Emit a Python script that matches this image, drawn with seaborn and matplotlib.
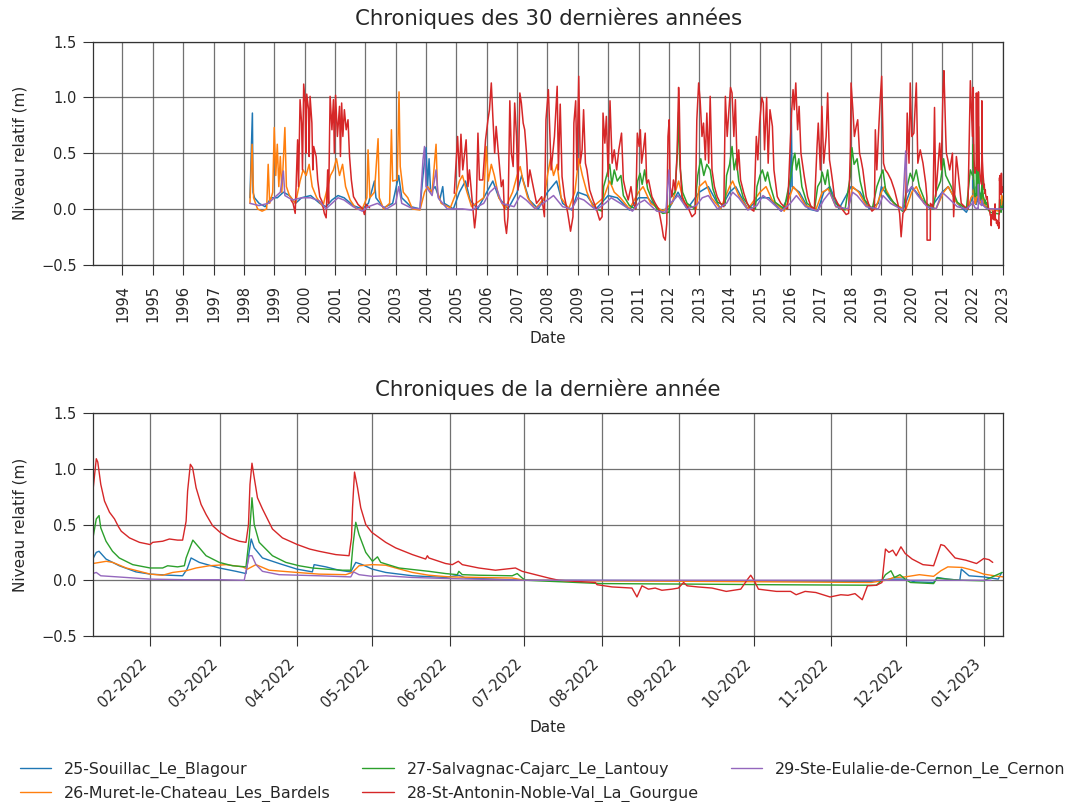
import numpy as np
import pandas as pd
import matplotlib
matplotlib.use("Agg")
import matplotlib.pyplot as plt
import matplotlib.dates as mdates
import seaborn as sns

# Stations and colours
stations = ["25-Souillac_Le_Blagour", "26-Muret-le-Chateau_Les_Bardels",
            "27-Salvagnac-Cajarc_Le_Lantouy", "28-St-Antonin-Noble-Val_La_Gourgue",
            "29-Ste-Eulalie-de-Cernon_Le_Cernon"]
colors = ["#1f77b4", "#ff7f0e", "#2ca02c", "#d62728", "#9467bd"]

# History up to early 2022: (decimal year, relative level in m), None = gap
hist_blagour = [(1998.20, 0.10), (1998.28, 0.86), (1998.30, 0.15), (1998.35, 0.10), (1998.50, 0.05),
                (1998.70, 0.02), (1998.90, 0.10), (1999.10, 0.10), (1999.30, 0.15), (1999.50, 0.12),
                (1999.70, 0.05), (1999.90, 0.10), (2000.20, 0.12), (2000.50, 0.05), (2000.70, 0.02),
                (2000.90, 0.08), (2001.10, 0.12), (2001.30, 0.10), (2001.60, 0.03), (2001.90, 0.00),
                (2002.10, 0.05), (2002.30, 0.25), (2002.35, 0.10), (2002.60, 0.01), (2002.90, 0.05),
                (2003.10, 0.30), (2003.20, 0.10), (2003.50, 0.02), (2003.80, 0.00), (2003.90, 0.30),
                (2004.00, 0.55), (2004.05, 0.20), (2004.10, 0.45), (2004.15, 0.15), (2004.30, 0.20),
                (2004.45, 0.08), (2004.55, 0.20), (2004.60, 0.05), (2004.90, 0.00), (2005.10, 0.15),
                (2005.30, 0.25), (2005.45, 0.08), (2005.70, 0.00), (2006.00, 0.15), (2006.20, 0.25),
                (2006.40, 0.10), (2006.70, 0.00), (2007.00, 0.15), (2007.15, 0.30), (2007.40, 0.08),
                (2007.70, 0.00), (2008.00, 0.15), (2008.30, 0.25), (2008.50, 0.05), (2008.80, -0.01),
                (2009.00, 0.15), (2009.30, 0.12), (2009.60, 0.00), (2010.00, 0.12), (2010.30, 0.10),
                (2010.70, -0.01), (2011.00, 0.10), (2011.30, 0.10), (2011.70, -0.02), (2012.00, 0.00),
                (2012.30, 0.15), (2012.60, 0.00), (2013.00, 0.15), (2013.30, 0.20), (2013.70, 0.00),
                (2014.00, 0.15), (2014.20, 0.20), (2014.60, 0.00), (2015.00, 0.10), (2015.30, 0.10),
                (2015.70, -0.02), (2016.00, 0.15), (2016.03, 0.90), (2016.06, 0.20), (2016.30, 0.15),
                (2016.60, 0.00), (2016.90, -0.02), (2017.10, 0.15), (2017.30, 0.20), (2017.60, 0.00),
                (2018.00, 0.20), (2018.30, 0.15), (2018.60, 0.00), (2018.90, 0.05), (2019.00, 0.20),
                (2019.30, 0.08), (2019.70, -0.02), (2020.00, 0.20), (2020.30, 0.10), (2020.60, 0.00),
                (2021.00, 0.15), (2021.20, 0.20), (2021.50, 0.05), (2021.80, -0.03), (2022.00, 0.10)]

hist_bardels = [(1998.20, 0.05), (1998.27, 0.58), (1998.32, 0.10), (1998.45, 0.00), (1998.60, -0.02),
                (1998.75, 0.00), (1998.80, 0.40), (1998.85, 0.05), (1998.95, 0.15), (1999.00, 0.73),
                (1999.05, 0.30), (1999.10, 0.58), (1999.15, 0.20), (1999.20, 0.47), (1999.25, 0.15),
                (1999.35, 0.73), (1999.40, 0.20), (1999.50, 0.12), (1999.70, 0.05), (1999.85, 0.25),
                (1999.95, 0.35), (2000.05, 0.30), (2000.15, 0.40), (2000.25, 0.20), (2000.40, 0.10),
                (2000.60, 0.02), (2000.85, 0.30), (2000.95, 0.35), (2001.05, 0.45), (2001.15, 0.30),
                (2001.25, 0.40), (2001.35, 0.20), (2001.50, 0.08), (2001.70, 0.00), (2001.90, 0.00),
                (2002.05, 0.10), (2002.09, 0.53), (2002.15, 0.10), (2002.30, 0.15), (2002.42, 0.63),
                (2002.46, 0.10), (2002.60, 0.00), (2002.80, 0.05), (2002.86, 0.71), (2002.90, 0.25),
                (2003.05, 0.26), (2003.11, 1.05), (2003.15, 0.38), (2003.25, 0.15), (2003.40, 0.10),
                (2003.55, 0.00), (2003.80, -0.01), (2003.95, 0.15), (2004.05, 0.20), (2004.20, 0.15),
                (2004.33, 0.58), (2004.38, 0.15), (2004.50, 0.05), (2004.80, 0.01), (2005.00, 0.15),
                (2005.10, 0.25), (2005.20, 0.30), (2005.35, 0.15), (2005.50, 0.02), (2005.90, 0.10),
                (2005.98, 0.56), (2006.05, 0.25), (2006.15, 0.40), (2006.25, 0.30), (2006.40, 0.10),
                (2006.60, 0.00), (2006.85, 0.15), (2007.00, 0.30), (2007.10, 0.38), (2007.20, 0.25),
                (2007.35, 0.10), (2007.60, 0.00), (2007.90, 0.10), (2008.00, 0.30), (2008.10, 0.45),
                (2008.20, 0.30), (2008.32, 0.40), (2008.45, 0.10), (2008.70, 0.00), (2008.90, 0.15),
                (2009.03, 0.45), (2009.15, 0.30), (2009.30, 0.15), (2009.50, 0.02), (2009.85, 0.10),
                (2010.05, 0.25), (2010.20, 0.15), (2010.40, 0.10), (2010.70, 0.00), (2011.00, 0.15),
                (2011.15, 0.20), (2011.40, 0.05), (2011.80, -0.02), (2012.10, 0.05), (2012.32, 0.25),
                (2012.50, 0.05), (2012.90, 0.00), (2013.00, 0.20), (2013.20, 0.25), (2013.40, 0.10),
                (2013.70, 0.00), (2014.00, 0.20), (2014.10, 0.25), (2014.30, 0.12), (2014.60, 0.00),
                (2015.00, 0.15), (2015.20, 0.20), (2015.40, 0.08), (2015.80, -0.02), (2016.10, 0.20),
                (2016.25, 0.15), (2016.50, 0.03), (2016.85, 0.00), (2017.05, 0.15), (2017.25, 0.18),
                (2017.50, 0.02), (2017.90, -0.01), (2018.05, 0.20), (2018.25, 0.15), (2018.50, 0.03),
                (2018.80, 0.00), (2019.00, 0.15), (2019.10, 0.20), (2019.40, 0.05), (2019.80, -0.01),
                (2020.00, 0.15), (2020.15, 0.20), (2020.40, 0.05), (2020.80, 0.00), (2021.05, 0.15),
                (2021.20, 0.20), (2021.50, 0.05), (2021.85, 0.00), (2021.95, 0.10), (2022.00, 0.12)]

hist_lantouy = [(2009.60, 0.00), (2009.80, -0.02), (2009.85, 0.20), (2009.95, 0.30), (2010.05, 0.40),
                (2010.12, 0.22), (2010.20, 0.35), (2010.30, 0.25), (2010.42, 0.30), (2010.50, 0.12),
                (2010.70, 0.03), (2010.90, 0.00), (2010.97, 0.25), (2011.05, 0.32), (2011.12, 0.22),
                (2011.20, 0.35), (2011.30, 0.18), (2011.45, 0.08), (2011.60, 0.00), (2011.80, -0.04),
                (2012.00, -0.03), (2012.05, 0.10), (2012.20, 0.15), (2012.28, 0.50), (2012.32, 0.87),
                (2012.36, 0.40), (2012.45, 0.15), (2012.60, 0.05), (2012.85, 0.00), (2012.95, 0.30),
                (2013.05, 0.45), (2013.15, 0.30), (2013.25, 0.40), (2013.36, 0.35), (2013.45, 0.18),
                (2013.60, 0.06), (2013.85, 0.03), (2013.90, 0.30), (2014.00, 0.40), (2014.08, 0.56),
                (2014.15, 0.35), (2014.22, 0.45), (2014.30, 0.25), (2014.45, 0.10), (2014.65, 0.02),
                (2014.85, 0.00), (2014.90, 0.20), (2015.00, 0.30), (2015.08, 0.35), (2015.18, 0.25),
                (2015.25, 0.33), (2015.35, 0.20), (2015.50, 0.06), (2015.80, 0.00), (2016.02, 0.30),
                (2016.10, 0.45), (2016.15, 0.50), (2016.20, 0.35), (2016.28, 0.45), (2016.38, 0.20),
                (2016.55, 0.05), (2016.80, 0.00), (2016.90, 0.20), (2017.00, 0.25), (2017.05, 0.33),
                (2017.15, 0.22), (2017.23, 0.35), (2017.30, 0.18), (2017.45, 0.06), (2017.80, -0.01),
                (2017.98, 0.30), (2018.03, 0.55), (2018.10, 0.40), (2018.20, 0.45), (2018.30, 0.25),
                (2018.45, 0.08), (2018.70, 0.00), (2018.85, 0.20), (2018.98, 0.30), (2019.05, 0.35),
                (2019.15, 0.15), (2019.40, 0.06), (2019.70, -0.02), (2019.85, 0.20), (2019.95, 0.32),
                (2020.05, 0.25), (2020.15, 0.35), (2020.25, 0.20), (2020.45, 0.06), (2020.70, 0.00),
                (2020.80, 0.15), (2020.95, 0.25), (2021.05, 0.45), (2021.12, 0.30), (2021.30, 0.20),
                (2021.50, 0.06), (2021.80, 0.00), (2021.93, 0.35), (2022.00, 0.30)]

hist_gourgue = [(1999.55, 0.08), (1999.62, 0.05), (1999.69, -0.04), (1999.77, 0.62), (1999.80, 0.20),
                (1999.85, 0.98), (1999.90, 0.77), (1999.93, 0.35), (1999.97, 1.12), (2000.02, 0.95),
                (2000.04, 0.50), (2000.07, 1.03), (2000.13, 0.89), (2000.15, 0.47), (2000.18, 1.01),
                (2000.24, 0.77), (2000.27, 0.35), (2000.30, 0.56), (2000.38, 0.47), (2000.43, 0.26),
                (2000.50, 0.11), (2000.57, 0.07), (2000.65, -0.04), (2000.71, -0.08), (2000.76, 0.35),
                (2000.79, 0.05), (2000.84, 1.01), (2000.90, 0.71), (2000.95, 0.98), (2000.98, 0.50),
                (2001.02, 1.02), (2001.08, 0.65), (2001.15, 0.92), (2001.18, 0.47), (2001.22, 0.95),
                (2001.26, 0.65), (2001.31, 0.89), (2001.37, 0.71), (2001.43, 0.80), (2001.48, 0.47),
                (2001.54, 0.26), (2001.61, 0.11), (2001.76, 0.04), (2001.92, 0.00), (2001.97, -0.05),
                (2002.03, 0.04), (2002.14, 0.01),
                None,
                (2004.93, 0.14), (2005.04, 0.65), (2005.10, 0.29), (2005.15, 0.67), (2005.21, 0.35),
                (2005.32, 0.62), (2005.38, 0.20), (2005.43, 0.35), (2005.51, 0.11), (2005.60, -0.17),
                (2005.65, -0.04), (2005.71, 0.68), (2005.76, 0.26), (2005.87, 0.26), (2005.96, 0.62),
                (2006.04, 0.80), (2006.09, 0.89), (2006.15, 1.13), (2006.20, 0.83), (2006.26, 0.50),
                (2006.31, 0.74), (2006.43, 0.35), (2006.48, 0.20), (2006.54, 0.26), (2006.59, -0.10),
                (2006.65, -0.22), (2006.70, -0.07), (2006.76, 0.97), (2006.81, 0.50), (2006.87, 0.38),
                (2006.92, 0.95), (2006.98, 0.65), (2007.03, 0.17), (2007.09, 1.04), (2007.14, 0.95),
                (2007.20, 0.77), (2007.25, 0.71), (2007.31, 0.50), (2007.36, 0.20), (2007.42, 0.35),
                (2007.53, 0.20), (2007.64, 0.05), (2007.81, 0.11), (2007.90, -0.07), (2007.95, 0.80),
                (2008.03, 1.07), (2008.12, 0.35), (2008.23, 0.65), (2008.32, 1.10), (2008.36, 0.35),
                (2008.42, 0.94), (2008.48, 0.29), (2008.56, 0.11), (2008.67, -0.04), (2008.76, -0.20),
                (2008.84, -0.07), (2008.87, 0.77), (2008.93, 0.97), (2008.97, 0.35), (2009.03, 1.19),
                (2009.08, 0.41), (2009.14, 0.53), (2009.19, 0.89), (2009.25, 0.41), (2009.30, 0.35),
                (2009.39, 0.17), (2009.50, 0.08), (2009.61, 0.00), (2009.72, -0.10), (2009.80, -0.07),
                (2009.83, 0.86), (2009.89, 0.59), (2009.94, 0.83), (2010.00, 0.29), (2010.06, 0.97),
                (2010.13, 0.41), (2010.20, 0.53), (2010.28, 0.35), (2010.35, 0.53), (2010.44, 0.68),
                (2010.50, 0.26), (2010.57, 0.17), (2010.66, 0.08), (2010.75, 0.20), (2010.83, 0.05),
                (2010.91, 0.00), (2010.96, 0.68), (2011.02, 0.56), (2011.06, 0.71), (2011.10, 0.41),
                (2011.16, 0.53), (2011.22, 0.68), (2011.27, 0.23), (2011.33, 0.26), (2011.44, 0.11),
                (2011.55, 0.05), (2011.66, 0.00), (2011.71, -0.07), (2011.77, -0.16), (2011.82, -0.25),
                (2011.88, -0.28), (2011.93, -0.13), (2011.97, 0.65), (2012.01, 0.80), (2012.04, 0.20),
                (2012.10, 0.11), (2012.15, 0.26), (2012.21, 0.17), (2012.27, 0.50), (2012.32, 1.09),
                (2012.34, 0.95), (2012.38, 0.35), (2012.43, 0.11), (2012.54, 0.05), (2012.65, 0.00),
                (2012.76, -0.07), (2012.87, -0.04), (2012.92, 0.80), (2012.98, 1.13), (2013.03, 0.97),
                (2013.09, 0.65), (2013.14, 0.77), (2013.20, 0.44), (2013.25, 0.86), (2013.31, 0.41),
                (2013.36, 1.01), (2013.42, 0.35), (2013.50, 0.20), (2013.59, 0.11), (2013.70, 0.05),
                (2013.81, 0.02), (2013.86, 1.01), (2013.92, 0.65), (2013.97, 0.86), (2014.03, 1.09),
                (2014.08, 1.04), (2014.14, 0.65), (2014.19, 0.98), (2014.25, 0.35), (2014.30, 0.53),
                (2014.36, 0.26), (2014.47, 0.14), (2014.58, 0.05), (2014.69, 0.00), (2014.80, -0.02),
                (2014.88, 0.65), (2014.93, 0.44), (2014.99, 0.77), (2015.06, 1.00), (2015.11, 0.95),
                (2015.15, 0.53), (2015.22, 1.00), (2015.27, 0.41), (2015.33, 0.89), (2015.41, 0.74),
                (2015.46, 0.35), (2015.57, 0.11), (2015.69, 0.05), (2015.80, 0.02), (2015.91, 0.00),
                (2016.04, 0.86), (2016.09, 1.07), (2016.13, 0.89), (2016.18, 1.13), (2016.24, 0.71),
                (2016.29, 0.92), (2016.35, 0.50), (2016.46, 0.29), (2016.57, 0.11), (2016.68, 0.02),
                (2016.79, 0.00), (2016.88, 0.56), (2016.92, 0.77), (2016.99, 0.35), (2017.04, 0.92),
                (2017.10, 0.41), (2017.18, 0.65), (2017.23, 1.04), (2017.29, 0.44), (2017.34, 0.35),
                (2017.40, 0.23), (2017.45, 0.11), (2017.56, 0.05), (2017.67, 0.01), (2017.84, -0.05),
                (2017.92, -0.04), (2017.98, 0.56), (2018.00, 1.13), (2018.06, 0.89), (2018.11, 0.65),
                (2018.17, 0.74), (2018.22, 0.80), (2018.28, 0.50), (2018.33, 0.44), (2018.39, 0.35),
                (2018.50, 0.11), (2018.61, 0.02), (2018.69, -0.02), (2018.77, 0.00), (2018.80, 0.71),
                (2018.85, 0.35), (2018.90, 0.65), (2018.96, 0.98), (2019.01, 1.19), (2019.07, 0.41),
                (2019.13, 0.35), (2019.21, 0.32), (2019.32, 0.26), (2019.43, 0.17), (2019.54, 0.05),
                (2019.60, -0.04), (2019.65, -0.25), (2019.71, -0.04), (2019.80, 0.00), (2019.85, 0.86),
                (2019.91, 0.41), (2019.95, 1.13), (2020.00, 0.65), (2020.07, 0.68), (2020.15, 1.13),
                (2020.20, 0.41), (2020.28, 0.53), (2020.37, 0.41), (2020.46, 0.23), (2020.500, 0.10),
                (2020.505, -0.28), (2020.610, -0.28), (2020.615, 0.05), (2020.70, 0.02), (2020.75, 0.91),
                (2020.79, 0.11), (2020.92, 0.59), (2020.97, 0.35), (2021.03, 1.07), (2021.06, 1.24),
                (2021.12, 0.65), (2021.14, 0.50), (2021.19, 0.44), (2021.25, 0.35), (2021.34, 0.50),
                (2021.38, -0.07), (2021.47, 0.47), (2021.52, 0.35), (2021.63, 0.05), (2021.74, 0.02),
                (2021.85, 0.00), (2021.93, 1.15), (2022.00, 0.65)]

hist_cernon = [(1998.20, 0.05), (1998.50, 0.03), (1998.80, 0.05), (1999.00, 0.10), (1999.20, 0.15),
               (1999.30, 0.34), (1999.35, 0.12), (1999.60, 0.08), (1999.90, 0.10), (2000.20, 0.10),
               (2000.50, 0.07), (2000.70, 0.00), (2000.90, 0.05), (2001.10, 0.10), (2001.30, 0.08),
               (2001.60, 0.02), (2001.90, -0.02), (2002.10, 0.02), (2002.40, 0.05), (2002.70, 0.00),
               (2003.00, 0.05), (2003.10, 0.20), (2003.20, 0.05), (2003.50, 0.01), (2003.80, 0.00),
               (2003.90, 0.44), (2003.95, 0.56), (2004.00, 0.20), (2004.20, 0.12), (2004.33, 0.35),
               (2004.40, 0.10), (2004.70, 0.00), (2005.20, 0.00), (2005.50, -0.01), (2005.90, 0.05),
               (2006.10, 0.15), (2006.30, 0.20), (2006.50, 0.05), (2006.90, 0.02), (2007.10, 0.12),
               (2007.30, 0.08), (2007.60, 0.00), (2008.00, 0.08), (2008.20, 0.12), (2008.50, 0.02),
               (2008.80, 0.00), (2009.00, 0.10), (2009.20, 0.08), (2009.60, -0.01), (2009.90, 0.05),
               (2010.10, 0.10), (2010.40, 0.05), (2010.80, -0.02), (2011.00, 0.05), (2011.20, 0.08),
               (2011.60, -0.02), (2011.90, -0.03), (2012.00, 0.35), (2012.05, 0.05), (2012.30, 0.12),
               (2012.60, 0.00), (2012.90, 0.03), (2013.10, 0.10), (2013.30, 0.12), (2013.60, 0.00),
               (2013.90, 0.05), (2014.10, 0.15), (2014.30, 0.10), (2014.60, -0.01), (2014.90, 0.03),
               (2015.10, 0.12), (2015.30, 0.08), (2015.70, -0.02), (2016.00, 0.05), (2016.20, 0.12),
               (2016.50, 0.02), (2016.90, -0.02), (2017.10, 0.08), (2017.30, 0.15), (2017.50, 0.02),
               (2017.90, 0.00), (2018.05, 0.15), (2018.20, 0.12), (2018.50, 0.02), (2018.90, 0.00),
               (2019.05, 0.12), (2019.30, 0.05), (2019.70, -0.01), (2019.80, 0.52), (2019.85, 0.15),
               (2020.00, 0.20), (2020.20, 0.12), (2020.50, 0.02), (2020.80, 0.00), (2021.00, 0.15),
               (2021.20, 0.10), (2021.50, 0.02), (2021.80, 0.00), (2022.00, 0.05)]

# Last year: (days since 2022-01-01, relative level in m)
year_blagour = [(8, 0.19), (9.4, 0.25), (10.5, 0.26), (13.3, 0.19), (18.6, 0.13), (25.3, 0.075),
                (31, 0.055), (38.7, 0.045), (44, 0.04), (45.8, 0.10), (47.4, 0.20), (50.7, 0.16),
                (58.7, 0.11), (65.4, 0.08), (69.4, 0.06), (70.7, 0.26), (71.5, 0.37), (72.7, 0.29),
                (76, 0.20), (82.7, 0.15), (89.8, 0.10), (96, 0.075), (96.7, 0.14), (101.4, 0.12),
                (106.7, 0.09), (111.4, 0.075), (113.4, 0.16), (116, 0.14), (120, 0.10), (125.4, 0.07),
                (136.1, 0.04), (149.4, 0.025), (154.7, 0.045), (157.4, 0.02), (181, 0.0), (250, -0.005),
                (320, -0.01), (327, 0.01), (333, 0.01), (337.6, -0.015), (345, -0.02), (346.4, 0.025),
                (350.7, 0.01), (355.5, 0.0), (356.1, 0.10), (359.2, 0.04), (365.1, 0.03), (370.9, 0.01),
                (372.3, 0.07)]

year_bardels = [(8, 0.15), (13.4, 0.17), (16, 0.16), (21.4, 0.11), (26.7, 0.08), (31, 0.055),
                (36, 0.045), (40, 0.07), (45.4, 0.085), (49.4, 0.11), (54.7, 0.13), (61.4, 0.14),
                (68, 0.12), (70, 0.10), (73.4, 0.14), (78.7, 0.09), (89.8, 0.07), (98.7, 0.055),
                (109.4, 0.05), (112, 0.07), (114.7, 0.13), (120, 0.14), (125.4, 0.135), (129.4, 0.11),
                (136.1, 0.07), (142.7, 0.045), (151, 0.03), (162.7, 0.025), (176.1, 0.02), (181, 0.0),
                (210, -0.005), (250, -0.01), (320, -0.02), (326, 0.0), (329, 0.025), (333.6, 0.03),
                (339.3, 0.05), (345, 0.035), (347.9, 0.085), (350.7, 0.12), (356.4, 0.115),
                (360.7, 0.09), (365.1, 0.055), (370.9, 0.035), (373, 0.03)]

year_lantouy = [(8, 0.37), (9.4, 0.55), (10.5, 0.58), (11.2, 0.47), (13.3, 0.35), (15.9, 0.26),
                (18.6, 0.20), (24, 0.14), (31, 0.11), (36, 0.11), (38, 0.13), (42, 0.12), (44.7, 0.13),
                (45.4, 0.20), (48.1, 0.36), (50, 0.31), (53.4, 0.22), (58.7, 0.16), (64, 0.13),
                (69.4, 0.12), (70.7, 0.38), (71.8, 0.74), (72.7, 0.50), (74.7, 0.34), (80, 0.22),
                (85.4, 0.16), (90.7, 0.13), (96, 0.11), (101.4, 0.10), (108, 0.09), (111.4, 0.09),
                (112.3, 0.32), (113.4, 0.52), (114.7, 0.41), (117.4, 0.25), (120.1, 0.17), (122.1, 0.21),
                (123.4, 0.16), (130.7, 0.11), (142.7, 0.08), (149.4, 0.06), (154.1, 0.05), (154.7, 0.08),
                (156.1, 0.05), (162.7, 0.045), (176.1, 0.04), (178.1, 0.06), (180.1, 0.02), (181.4, 0.0),
                (212, -0.03), (250, -0.035), (280, -0.04), (322, -0.045), (324.3, 0.0), (325.7, 0.05),
                (327.9, 0.085), (329.3, 0.025), (331.5, 0.05), (333.6, 0.01), (335.7, -0.02),
                (345, -0.03), (346.4, 0.02), (350, 0.01), (356, 0.0), (365, -0.005), (372.5, 0.07)]

year_gourgue = [(8, 0.79), (9.4, 1.09), (10, 1.06), (11.2, 0.86), (12.7, 0.71), (14.7, 0.61),
                (16.7, 0.55), (18.3, 0.48), (19.4, 0.44), (22.7, 0.38), (26.7, 0.34), (31, 0.32),
                (32, 0.34), (36, 0.35), (38.7, 0.37), (42, 0.36), (44, 0.36), (45.4, 0.53), (46, 0.80),
                (47.1, 1.04), (48, 1.01), (49.4, 0.83), (51.4, 0.68), (53.4, 0.59), (56, 0.49),
                (59, 0.43), (62.7, 0.38), (66.7, 0.35), (69.4, 0.34), (70.4, 0.50), (71, 0.86),
                (71.8, 1.05), (72.7, 0.92), (74, 0.74), (76, 0.64), (80, 0.46), (84, 0.38), (90, 0.32),
                (94.9, 0.28), (98.7, 0.26), (105.4, 0.23), (110.7, 0.22), (111.7, 0.38), (112.1, 0.65),
                (112.9, 0.97), (114.1, 0.83), (115.4, 0.65), (117.4, 0.50), (119.8, 0.43), (125.4, 0.34),
                (129.4, 0.29), (136.1, 0.23), (141.4, 0.19), (142.1, 0.22), (142.7, 0.20), (149.4, 0.15),
                (152.1, 0.14), (154.5, 0.17), (156.1, 0.14), (162.7, 0.11), (169.4, 0.09), (177.4, 0.11),
                (180.1, 0.08), (185.4, 0.05), (190.7, 0.02), (194.7, 0.0), (201.4, -0.01), (209.4, -0.02),
                (210.1, -0.04), (216.1, -0.06), (224.1, -0.07), (226.1, -0.15), (228.1, -0.05),
                (230.7, -0.08), (233.4, -0.07), (236.1, -0.09), (240.1, -0.08), (242.7, -0.07),
                (244.8, -0.02), (246.2, -0.05), (250.5, -0.06), (256.2, -0.07), (261.9, -0.10),
                (267.7, -0.08), (270.5, 0.01), (271.7, 0.045), (273, 0.0), (274.8, -0.08), (282, -0.10),
                (287.7, -0.10), (289.9, -0.13), (293.5, -0.10), (297.8, -0.11), (303.5, -0.15),
                (307.8, -0.13), (310.7, -0.135), (313.5, -0.12), (316.4, -0.175), (318.5, -0.05),
                (322.1, -0.045), (324.3, -0.02), (325.7, 0.28), (327.1, 0.25), (328.6, 0.27),
                (330, 0.22), (331.9, 0.30), (333.6, 0.24), (336.4, 0.19), (340.7, 0.14), (345, 0.13),
                (347.9, 0.32), (349.3, 0.31), (353.6, 0.20), (357.9, 0.18), (362.2, 0.15),
                (365.1, 0.195), (367.2, 0.185), (368.7, 0.16)]

year_cernon = [(8, 0.06), (9.4, 0.07), (11.2, 0.04), (18, 0.03), (31, 0.01), (45, 0.005), (58.7, 0.005),
               (68.7, 0.0), (69.4, 0.08), (70.7, 0.22), (71.8, 0.22), (73.4, 0.14), (76, 0.08),
               (82.7, 0.05), (98.7, 0.04), (111.4, 0.03), (112.5, 0.075), (114.7, 0.05), (120, 0.035),
               (125.4, 0.04), (136, 0.025), (151, 0.015), (181, 0.0), (250, 0.0), (330, 0.0), (368, 0.0)]

hist_series = [hist_blagour, hist_bardels, hist_lantouy, hist_gourgue, hist_cernon]
year_series = [year_blagour, year_bardels, year_lantouy, year_gourgue, year_cernon]

year0 = pd.Timestamp("2022-01-01")


def dec_year_to_date(t):
    return pd.Timestamp("1994-01-01") + pd.to_timedelta((np.asarray(t) - 1994.0) * 365.25, unit="D")


def year_rows(name, pts):
    days = np.array([p[0] for p in pts], dtype=float)
    return pd.DataFrame({"Date": year0 + pd.to_timedelta(days, unit="D"),
                         "Niveau": [p[1] for p in pts], "Station": name, "seg": 99})


long_rows = []
last_rows = []
for name, hist, last in zip(stations, hist_series, year_series):
    seg = 0
    chunk = []
    for p in hist + [None]:
        if p is None:
            if chunk:
                long_rows.append(pd.DataFrame({"Date": dec_year_to_date([c[0] for c in chunk]),
                                               "Niveau": [c[1] for c in chunk],
                                               "Station": name, "seg": seg}))
            seg += 1
            chunk = []
        else:
            chunk.append(p)
    yr = year_rows(name, last)
    long_rows.append(yr)
    last_rows.append(yr)

df_long = pd.concat(long_rows, ignore_index=True)
df_last = pd.concat(last_rows, ignore_index=True)

sns.set_style("ticks")
plt.rcParams["font.family"] = ["DejaVu Sans"]
palette = dict(zip(stations, colors))

fig = plt.figure(figsize=(10.79, 8.02), dpi=100)
ax1 = fig.add_axes([0.086, 0.670, 0.844, 0.278])
ax2 = fig.add_axes([0.086, 0.207, 0.844, 0.278])

sns.lineplot(data=df_long, x="Date", y="Niveau", hue="Station", units="seg", estimator=None,
             sort=False, palette=palette, hue_order=stations, linewidth=1.1, legend=False, ax=ax1)
sns.lineplot(data=df_last, x="Date", y="Niveau", hue="Station", estimator=None,
             sort=False, palette=palette, hue_order=stations, linewidth=1.0, legend=True, ax=ax2)

# top panel: 30 years
ax1.set_xlim(pd.Timestamp("1993-01-09"), pd.Timestamp("2023-01-09"))
ax1.xaxis.set_major_locator(mdates.YearLocator(1))
ax1.xaxis.set_major_formatter(mdates.DateFormatter("%Y"))
plt.setp(ax1.get_xticklabels(), rotation=90)
ax1.set_title("Chroniques des 30 dernières années", fontsize=15.3, pad=12)

# bottom panel: last year
ax2.set_xlim(pd.Timestamp("2022-01-09"), pd.Timestamp("2023-01-09"))
ax2.xaxis.set_major_locator(mdates.MonthLocator())
ax2.xaxis.set_major_formatter(mdates.DateFormatter("%m-%Y"))
plt.setp(ax2.get_xticklabels(), rotation=45, ha="right")
ax2.set_title("Chroniques de la dernière année", fontsize=15.3, pad=12)

for ax in (ax1, ax2):
    ax.set_ylim(-0.5, 1.5)
    ax.set_yticks([-0.5, 0.0, 0.5, 1.0, 1.5])
    ax.grid(True, color="0.3", linewidth=0.9, alpha=0.8)
    ax.set_ylabel("Niveau relatif (m)", fontsize=11, labelpad=10)
    ax.tick_params(labelsize=10.5, length=7, color="0.2")
    ax.tick_params(axis="x", pad=7.5)
    ax.tick_params(axis="y", pad=4.5)
    for s in ax.spines.values():
        s.set_color("0.2")
        s.set_linewidth(0.9)
ax1.set_xlabel("Date", fontsize=11, labelpad=6)
ax2.set_xlabel("Date", fontsize=11, labelpad=7)

handles, labels = ax2.get_legend_handles_labels()
ax2.get_legend().remove()
fig.legend(handles, labels, loc="lower left", bbox_to_anchor=(0.005, -0.018), ncol=3,
           frameon=False, fontsize=11.4, columnspacing=2.0)

fig.savefig("out.png", dpi=100)
